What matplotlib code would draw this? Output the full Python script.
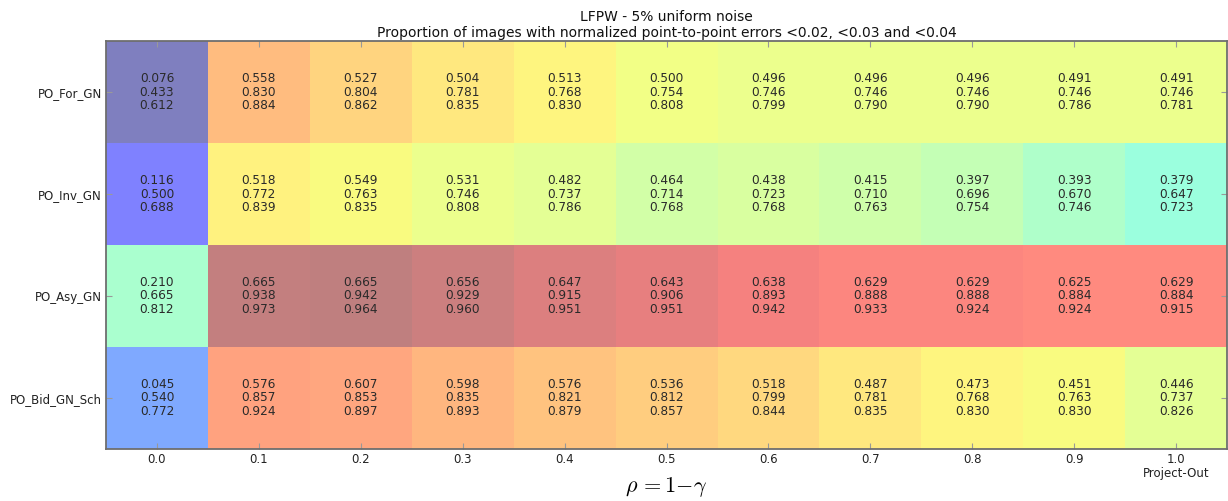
import numpy as np
import matplotlib
matplotlib.use("Agg")
import matplotlib.pyplot as plt

# row labels (top to bottom) and column labels
methods = ["PO_For_GN", "PO_Inv_GN", "PO_Asy_GN", "PO_Bid_GN_Sch"]
rho = ["0.0", "0.1", "0.2", "0.3", "0.4", "0.5", "0.6", "0.7", "0.8", "0.9", "1.0\nProject-Out"]

# proportion of images with error < 0.02
err_002 = [
    [0.076, 0.558, 0.527, 0.504, 0.513, 0.500, 0.496, 0.496, 0.496, 0.491, 0.491],
    [0.116, 0.518, 0.549, 0.531, 0.482, 0.464, 0.438, 0.415, 0.397, 0.393, 0.379],
    [0.210, 0.665, 0.665, 0.656, 0.647, 0.643, 0.638, 0.629, 0.629, 0.625, 0.629],
    [0.045, 0.576, 0.607, 0.598, 0.576, 0.536, 0.518, 0.487, 0.473, 0.451, 0.446],
]
# error < 0.03
err_003 = [
    [0.433, 0.830, 0.804, 0.781, 0.768, 0.754, 0.746, 0.746, 0.746, 0.746, 0.746],
    [0.500, 0.772, 0.763, 0.746, 0.737, 0.714, 0.723, 0.710, 0.696, 0.670, 0.647],
    [0.665, 0.938, 0.942, 0.929, 0.915, 0.906, 0.893, 0.888, 0.888, 0.884, 0.884],
    [0.540, 0.857, 0.853, 0.835, 0.821, 0.812, 0.799, 0.781, 0.768, 0.763, 0.737],
]
# error < 0.04
err_004 = [
    [0.612, 0.884, 0.862, 0.835, 0.830, 0.808, 0.799, 0.790, 0.790, 0.786, 0.781],
    [0.688, 0.839, 0.835, 0.808, 0.786, 0.768, 0.768, 0.763, 0.754, 0.746, 0.723],
    [0.812, 0.973, 0.964, 0.960, 0.951, 0.951, 0.942, 0.933, 0.924, 0.924, 0.915],
    [0.772, 0.924, 0.897, 0.893, 0.879, 0.857, 0.844, 0.835, 0.830, 0.830, 0.826],
]

plt.rcParams["mathtext.fontset"] = "cm"

e2 = np.array(err_002)
e3 = np.array(err_003)
e4 = np.array(err_004)
n_rows, n_cols = e3.shape

fig = plt.figure(figsize=(12.28, 5.01), dpi=100)
ax = fig.add_axes([0.0863, 0.104, 0.913, 0.814])

# colour comes from the <0.03 column
ax.pcolormesh(np.arange(n_cols + 1) - 0.5, np.arange(n_rows + 1) - 0.5, e3,
              cmap="jet", alpha=0.5, vmin=e3.min(), vmax=e3.max(), edgecolors="none")

for i in range(n_rows):
    for j in range(n_cols):
        ax.text(j, i, f"{e2[i, j]:.3f}\n{e3[i, j]:.3f}\n{e4[i, j]:.3f}",
                ha="center", va="center", fontsize=8.7, linespacing=1.03, color="#2a2a2a")

ax.set_xlim(-0.5, n_cols - 0.5)
ax.set_ylim(n_rows - 0.5, -0.5)
ax.set_xticks(np.arange(n_cols))
ax.set_xticklabels(rho, fontsize=8.5, va="top", color="#222222", linespacing=1.05)
ax.set_yticks(np.arange(n_rows))
ax.set_yticklabels(methods, fontsize=8.5, color="#222222")
ax.tick_params(direction="in", top=True, right=True, length=4, color="#999999")
ax.tick_params(axis="x", pad=3)
ax.tick_params(axis="y", pad=3)
for s in ax.spines.values():
    s.set_color("#6e6e6e")
    s.set_linewidth(1.3)

ax.set_title("LFPW - 5% uniform noise\nProportion of images with normalized point-to-point errors <0.02, <0.03 and <0.04",
             fontsize=10, pad=3, color="#111111")
ax.set_xlabel(r"$\rho\,{=}1{-}\gamma$", fontsize=16)
ax.xaxis.set_label_coords(0.5, -0.065)

fig.savefig("out.png", dpi=100)
